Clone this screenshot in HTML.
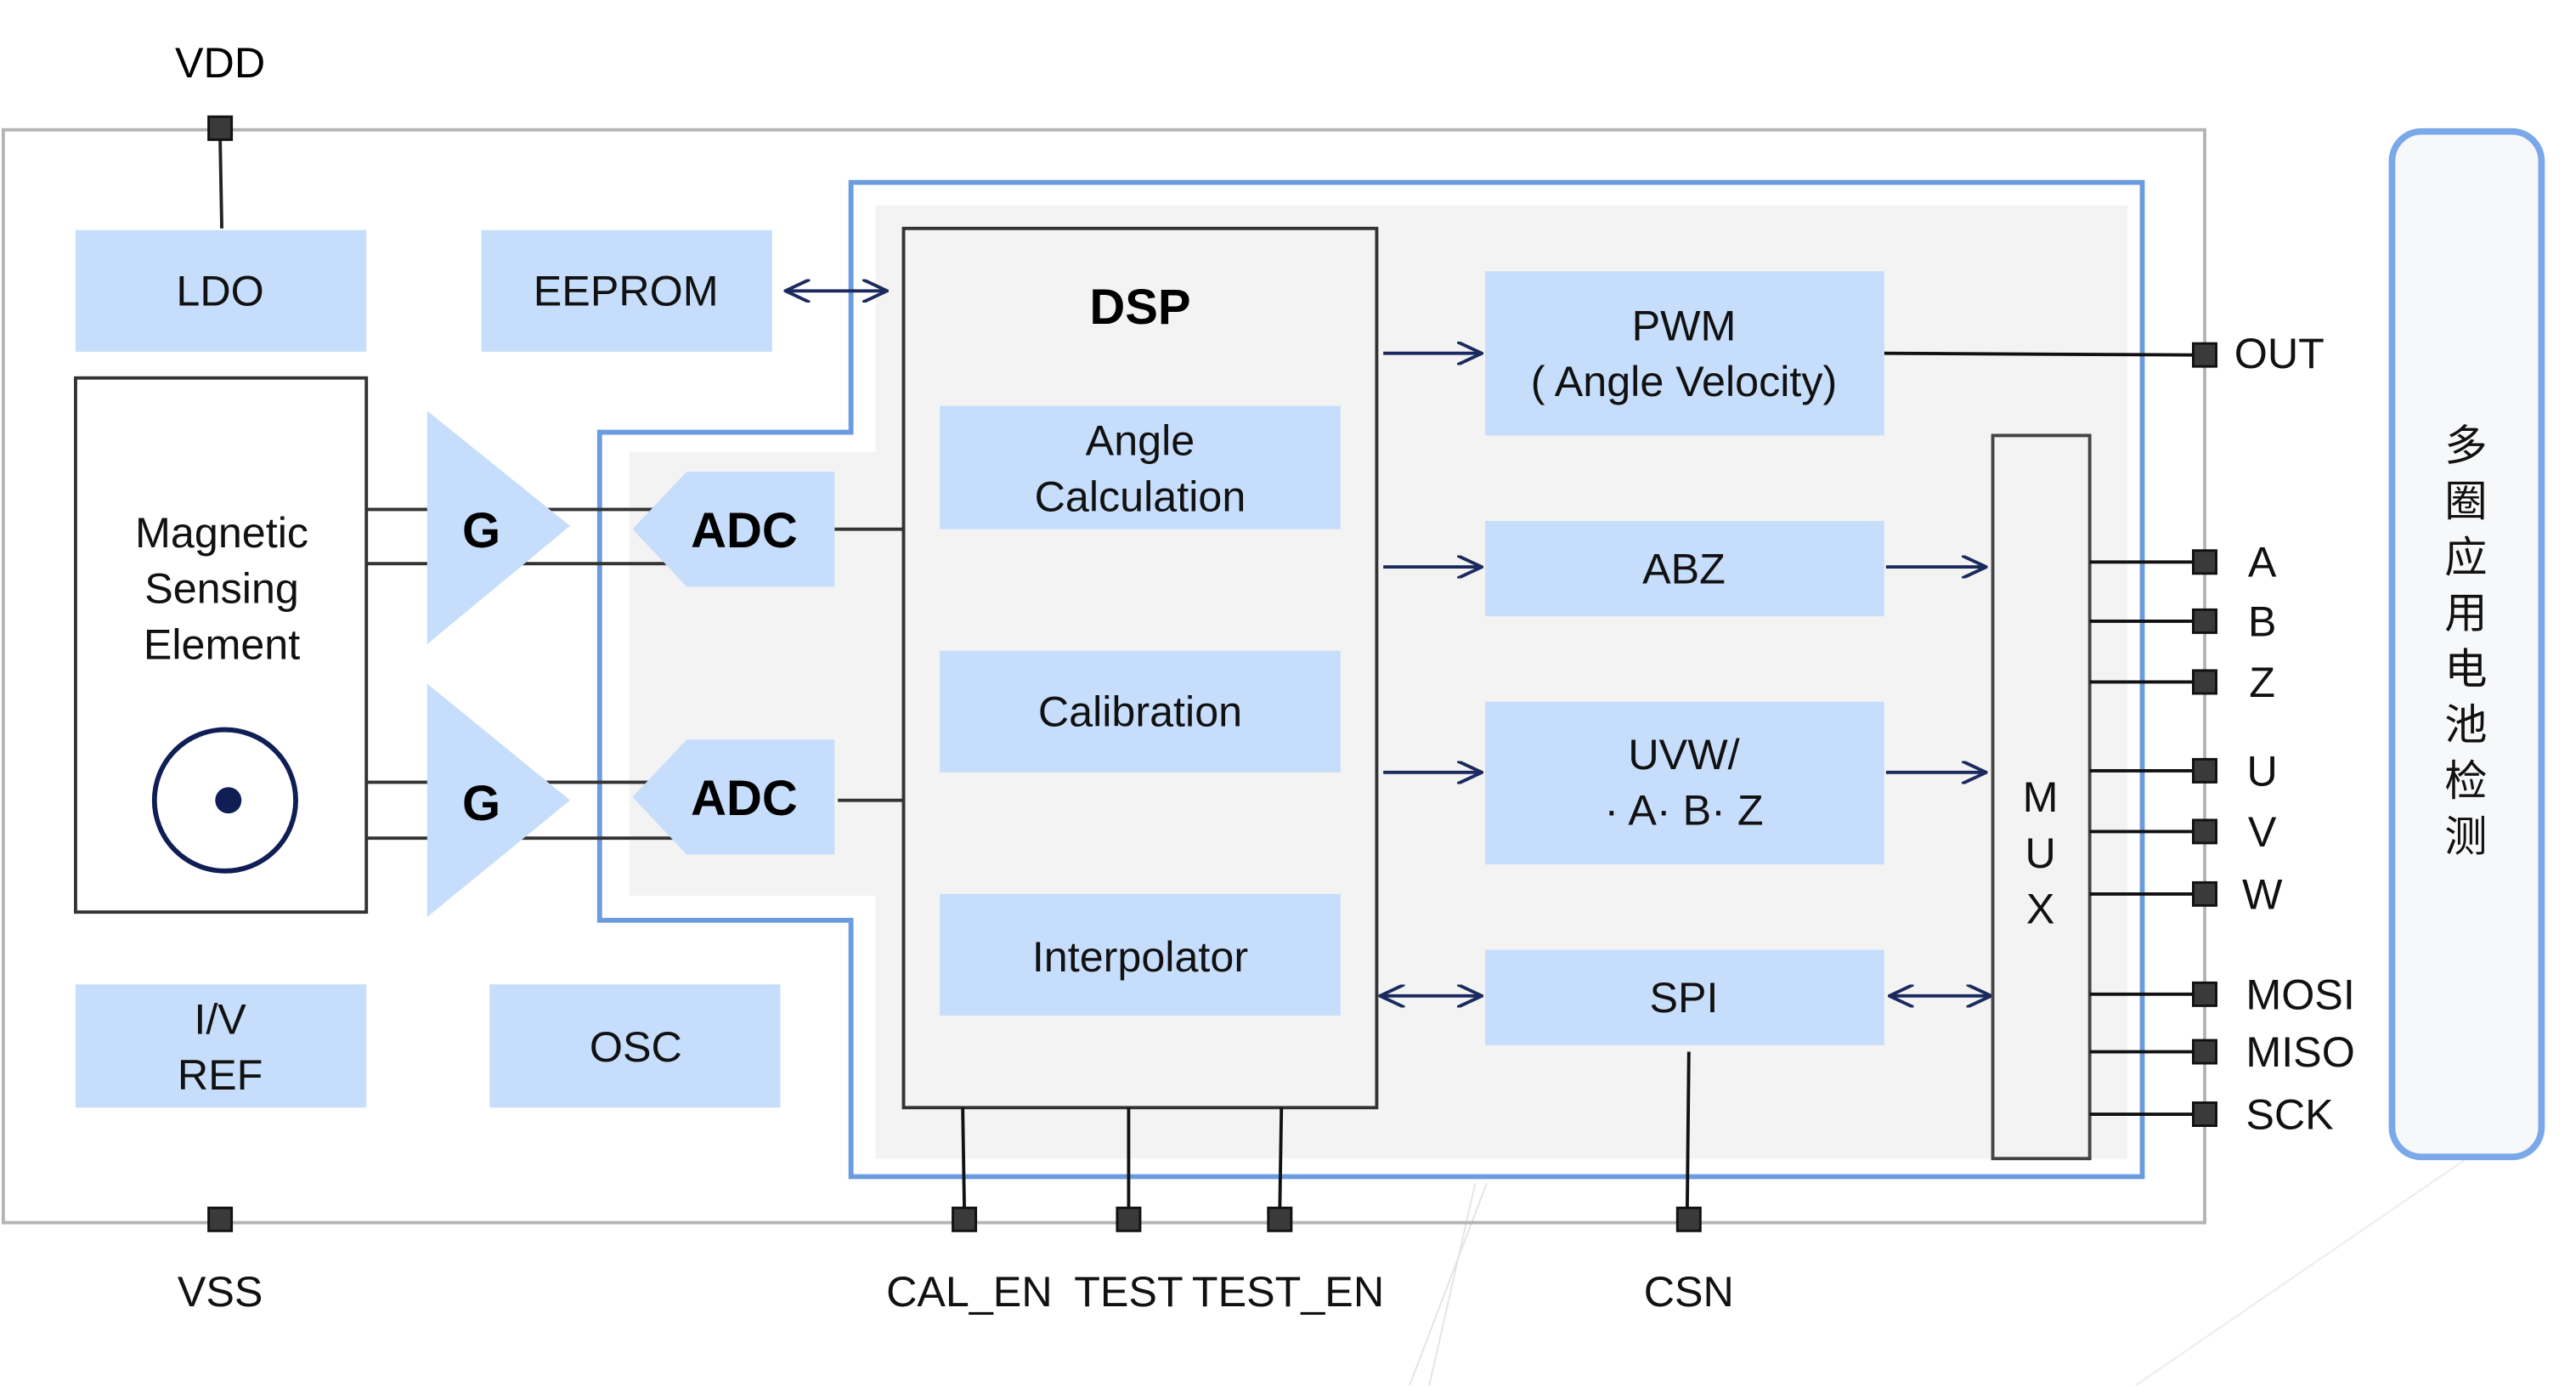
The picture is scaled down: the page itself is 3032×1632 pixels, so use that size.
<!DOCTYPE html>
<html><head><meta charset="utf-8"><style>html,body{margin:0;padding:0;background:#fff}svg{display:block}</style></head>
<body>
<svg width="3032" height="1632" viewBox="0 0 1568 844" preserveAspectRatio="none" xmlns="http://www.w3.org/2000/svg" font-family="'Liberation Sans','Noto Sans CJK SC',sans-serif">
<defs>
<marker id="ah" markerWidth="16" markerHeight="14" refX="15" refY="7" orient="auto-start-reverse" markerUnits="userSpaceOnUse">
<path d="M0,0 L15,7 L0,14" fill="none" stroke="#1a2a5e" stroke-width="2"/></marker>
</defs>
<rect width="1568" height="844" fill="#fff"/>
<line x1="905" y1="720" x2="858" y2="843" stroke="#e4e4e4" stroke-width="1"/>
<line x1="898" y1="720" x2="870" y2="843" stroke="#e4e4e4" stroke-width="1"/>
<line x1="1500" y1="706" x2="1300" y2="843" stroke="#ececec" stroke-width="1"/>
<rect x="2" y="79" width="1340" height="665" fill="none" stroke="#b4b4b4" stroke-width="2"/>
<path d="M533,125 H1295 V705 H533 V545 H383 V275 H533 Z" fill="#f3f3f3"/>
<path d="M518,111 H1304 V716 H518 V560 H365 V263 H518 Z" fill="none" stroke="#6b9be0" stroke-width="3"/>
<text x="134" y="47" font-size="26" text-anchor="middle">VDD</text>
<line x1="134" y1="85" x2="135" y2="139" stroke="#222" stroke-width="2"/>
<rect x="127" y="71" width="14" height="14" fill="#3a3a3a" stroke="#111" stroke-width="1.5"/>
<g fill="#c6ddfb">
<rect x="46" y="140" width="177" height="74"/>
<rect x="293" y="140" width="177" height="74"/>
<rect x="46" y="599" width="177" height="75"/>
<rect x="298" y="599" width="177" height="75"/>
</g>
<g font-size="26" text-anchor="middle" fill="#111">
<text x="134" y="186">LDO</text>
<text x="381" y="186">EEPROM</text>
<text x="134" y="629">I/V</text>
<text x="134" y="663">REF</text>
<text x="387" y="646">OSC</text>
</g>
<line x1="478" y1="177" x2="540" y2="177" stroke="#1a2a5e" stroke-width="2" marker-start="url(#ah)" marker-end="url(#ah)"/>
<rect x="46" y="230" width="177" height="325" fill="#fff" stroke="#333" stroke-width="2"/>
<g font-size="26" text-anchor="middle" fill="#111">
<text x="135" y="333">Magnetic</text>
<text x="135" y="367">Sensing</text>
<text x="135" y="401">Element</text>
</g>
<circle cx="137" cy="487" r="43" fill="none" stroke="#0f1f55" stroke-width="3"/>
<circle cx="139" cy="487" r="8" fill="#0f1f55"/>
<g stroke="#333" stroke-width="2">
<line x1="223" y1="310" x2="420" y2="310"/><line x1="223" y1="343" x2="420" y2="343"/>
<line x1="223" y1="476" x2="420" y2="476"/><line x1="223" y1="510" x2="420" y2="510"/>
<line x1="508" y1="322" x2="550" y2="322"/><line x1="510" y1="487" x2="550" y2="487"/>
</g>
<g fill="#c6ddfb">
<polygon points="260,250 347,320 260,392"/>
<polygon points="260,416 347,487 260,558"/>
<polygon points="385,322 418,287 508,287 508,357 418,357"/>
<polygon points="385,485 418,450 508,450 508,520 418,520"/>
</g>
<g font-size="30" font-weight="bold" text-anchor="middle" fill="#000">
<text x="293" y="333">G</text>
<text x="293" y="499">G</text>
<text x="453" y="333">ADC</text>
<text x="453" y="496">ADC</text>
</g>
<rect x="550" y="139" width="288" height="535" fill="#f3f3f3" stroke="#333" stroke-width="2"/>
<text x="694" y="197" font-size="30" font-weight="bold" text-anchor="middle">DSP</text>
<g fill="#c6ddfb">
<rect x="572" y="247" width="244" height="75"/>
<rect x="572" y="396" width="244" height="74"/>
<rect x="572" y="544" width="244" height="74"/>
<rect x="904" y="165" width="243" height="100"/>
<rect x="904" y="317" width="243" height="58"/>
<rect x="904" y="427" width="243" height="99"/>
<rect x="904" y="578" width="243" height="58"/>
</g>
<g font-size="26" text-anchor="middle" fill="#111">
<text x="694" y="277">Angle</text>
<text x="694" y="311">Calculation</text>
<text x="694" y="442">Calibration</text>
<text x="694" y="591">Interpolator</text>
<text x="1025" y="207">PWM</text>
<text x="1025" y="241">( Angle Velocity)</text>
<text x="1025" y="355">ABZ</text>
<text x="1025" y="468">UVW/</text>
<text x="1025" y="502">· A· B· Z</text>
<text x="1025" y="616">SPI</text>
</g>
<g stroke="#1a2a5e" stroke-width="2" fill="none">
<line x1="842" y1="215" x2="902" y2="215" marker-end="url(#ah)"/>
<line x1="842" y1="345" x2="902" y2="345" marker-end="url(#ah)"/>
<line x1="842" y1="470" x2="902" y2="470" marker-end="url(#ah)"/>
<line x1="840" y1="606" x2="902" y2="606" marker-start="url(#ah)" marker-end="url(#ah)"/>
<line x1="1148" y1="345" x2="1209" y2="345" marker-end="url(#ah)"/>
<line x1="1148" y1="470" x2="1209" y2="470" marker-end="url(#ah)"/>
<line x1="1150" y1="606" x2="1212" y2="606" marker-start="url(#ah)" marker-end="url(#ah)"/>
</g>
<rect x="1213" y="265" width="59" height="440" fill="#f3f3f3" stroke="#444" stroke-width="2"/>
<g font-size="26" text-anchor="middle" fill="#111">
<text x="1242" y="494">M</text><text x="1242" y="528">U</text><text x="1242" y="562">X</text>
</g>
<g stroke="#111" stroke-width="2">
<line x1="1147" y1="215" x2="1336" y2="216"/>
<line x1="1272" y1="342" x2="1336" y2="342"/><line x1="1272" y1="378" x2="1336" y2="378"/>
<line x1="1272" y1="415" x2="1336" y2="415"/><line x1="1272" y1="469" x2="1336" y2="469"/>
<line x1="1272" y1="506" x2="1336" y2="506"/><line x1="1272" y1="544" x2="1336" y2="544"/>
<line x1="1272" y1="605" x2="1336" y2="605"/><line x1="1272" y1="640" x2="1336" y2="640"/>
<line x1="1272" y1="678" x2="1336" y2="678"/>
<line x1="586" y1="674" x2="587" y2="736"/><line x1="687" y1="674" x2="687" y2="736"/>
<line x1="780" y1="674" x2="779" y2="736"/><line x1="1028" y1="640" x2="1027" y2="736"/>
</g>
<g fill="#3a3a3a" stroke="#111" stroke-width="1.5">
<rect x="1335" y="209" width="14" height="14"/>
<rect x="1335" y="335" width="14" height="14"/><rect x="1335" y="371" width="14" height="14"/>
<rect x="1335" y="408" width="14" height="14"/><rect x="1335" y="462" width="14" height="14"/>
<rect x="1335" y="499" width="14" height="14"/><rect x="1335" y="537" width="14" height="14"/>
<rect x="1335" y="598" width="14" height="14"/><rect x="1335" y="633" width="14" height="14"/>
<rect x="1335" y="671" width="14" height="14"/>
<rect x="127" y="735" width="14" height="14"/>
<rect x="580" y="735" width="14" height="14"/><rect x="680" y="735" width="14" height="14"/>
<rect x="772" y="735" width="14" height="14"/><rect x="1021" y="735" width="14" height="14"/>
</g>
<g font-size="26" fill="#111">
<text x="1360" y="224">OUT</text>
<text x="1377" y="351" text-anchor="middle">A</text>
<text x="1377" y="387" text-anchor="middle">B</text>
<text x="1377" y="424" text-anchor="middle">Z</text>
<text x="1377" y="478" text-anchor="middle">U</text>
<text x="1377" y="515" text-anchor="middle">V</text>
<text x="1377" y="553" text-anchor="middle">W</text>
<text x="1367" y="614">MOSI</text>
<text x="1367" y="649">MISO</text>
<text x="1367" y="687">SCK</text>
</g>
<g font-size="26" fill="#111" text-anchor="middle">
<text x="134" y="795">VSS</text>
<text x="590" y="795">CAL_EN</text>
<text x="687" y="795">TEST</text>
<text x="784" y="795">TEST_EN</text>
<text x="1028" y="795">CSN</text>
</g>
<rect x="1456" y="80" width="91" height="624" rx="18" fill="#f7f8fa" stroke="#7aa8e8" stroke-width="4"/>
<g font-size="26" fill="#111" text-anchor="middle" font-family="'Noto Sans CJK SC',sans-serif">
<text x="1501" y="280">多</text><text x="1501" y="314">圈</text><text x="1501" y="348">应</text>
<text x="1501" y="382">用</text><text x="1501" y="416">电</text><text x="1501" y="450">池</text>
<text x="1501" y="484">检</text><text x="1501" y="518">测</text>
</g>
</svg>
</body></html>
